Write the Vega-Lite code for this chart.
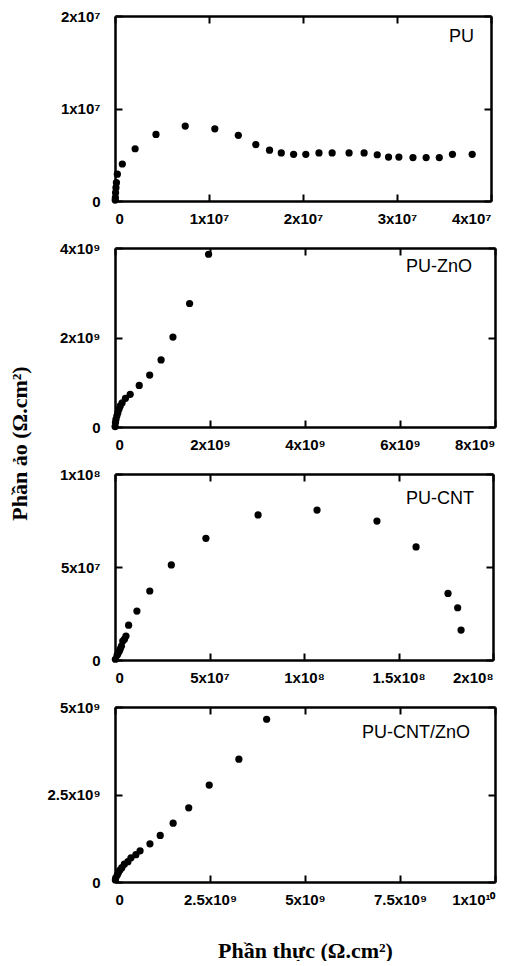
{
  "$schema": "https://vega.github.io/schema/vega-lite/v6.json",
  "background": "white",
  "padding": {"left": 8, "top": 9, "right": 2, "bottom": 0},
  "spacing": 47,
  "bounds": "flush",
  "config": {
    "view": {"stroke": null},
    "axis": {
      "grid": false, "domain": true, "domainColor": "black", "domainWidth": 2.5,
      "tickColor": "black", "tickWidth": 2, "tickSize": -7,
      "labelFont": "Liberation Sans", "labelFontWeight": "bold", "labelFontSize": 15, "labelColor": "black",
      "titleFont": "Liberation Serif", "titleFontSize": 22, "titleFontWeight": "bold", "titleColor": "black"
    },
    "axisX": {"labelDx": -11, "labelPadding": 17},
    "axisY": {"labelDy": 3, "labelPadding": 22},
    "text": {"font": "Liberation Sans", "fontSize": 18, "color": "black", "align": "right", "baseline": "top"}
  },
  "datasets": {
    "pu": [
      {"re": 2e4, "im": 1e5}, {"re": 4e4, "im": 3.6e5}, {"re": 6e4, "im": 9e5}, {"re": 1e5, "im": 1.44e6},
      {"re": 1.5e5, "im": 1.98e6}, {"re": 2.5e5, "im": 2.9e6}, {"re": 7.8e5, "im": 4.0e6}, {"re": 2.14e6, "im": 5.65e6},
      {"re": 4.36e6, "im": 7.2e6}, {"re": 7.47e6, "im": 8.1e6}, {"re": 1.062e7, "im": 7.8e6}, {"re": 1.312e7, "im": 7.1e6},
      {"re": 1.498e7, "im": 6.1e6}, {"re": 1.644e7, "im": 5.5e6}, {"re": 1.769e7, "im": 5.2e6}, {"re": 1.90e7, "im": 5.05e6},
      {"re": 2.03e7, "im": 5.05e6}, {"re": 2.17e7, "im": 5.2e6}, {"re": 2.31e7, "im": 5.2e6}, {"re": 2.49e7, "im": 5.2e6},
      {"re": 2.65e7, "im": 5.2e6}, {"re": 2.79e7, "im": 5.0e6}, {"re": 2.91e7, "im": 4.75e6}, {"re": 3.02e7, "im": 4.75e6},
      {"re": 3.17e7, "im": 4.7e6}, {"re": 3.31e7, "im": 4.7e6}, {"re": 3.45e7, "im": 4.7e6}, {"re": 3.59e7, "im": 5.05e6},
      {"re": 3.80e7, "im": 5.05e6}
    ],
    "puzno": [
      {"re": 1.97e9, "im": 3.86e9}, {"re": 1.57e9, "im": 2.76e9}, {"re": 1.22e9, "im": 2.01e9}, {"re": 0.97e9, "im": 1.50e9},
      {"re": 0.73e9, "im": 1.16e9}, {"re": 0.51e9, "im": 0.93e9}, {"re": 0.32e9, "im": 0.73e9}, {"re": 0.22e9, "im": 0.64e9},
      {"re": 0.15e9, "im": 0.54e9}, {"re": 0.11e9, "im": 0.47e9}, {"re": 0.085e9, "im": 0.40e9}, {"re": 0.06e9, "im": 0.32e9},
      {"re": 0.04e9, "im": 0.25e9}, {"re": 0.02e9, "im": 0.17e9}, {"re": 0.01e9, "im": 0.10e9}, {"re": 0.002e9, "im": 0.01e9}
    ],
    "pucnt": [
      {"re": 1.831e8, "im": 1.61e7}, {"re": 1.813e8, "im": 2.81e7}, {"re": 1.762e8, "im": 3.58e7}, {"re": 1.593e8, "im": 6.08e7},
      {"re": 1.386e8, "im": 7.47e7}, {"re": 1.069e8, "im": 8.06e7}, {"re": 0.757e8, "im": 7.80e7}, {"re": 0.481e8, "im": 6.54e7},
      {"re": 0.298e8, "im": 5.11e7}, {"re": 0.184e8, "im": 3.71e7}, {"re": 0.116e8, "im": 2.63e7}, {"re": 0.072e8, "im": 1.87e7},
      {"re": 0.058e8, "im": 1.29e7}, {"re": 0.05e8, "im": 1.12e7}, {"re": 0.041e8, "im": 1.02e7}, {"re": 0.034e8, "im": 0.75e7},
      {"re": 0.028e8, "im": 0.6e7}, {"re": 0.023e8, "im": 0.48e7}, {"re": 0.016e8, "im": 0.35e7}, {"re": 0.011e8, "im": 0.25e7},
      {"re": 0.002e8, "im": 0.04e7}
    ],
    "pucntzno": [
      {"re": 3.99e9, "im": 4.65e9}, {"re": 3.26e9, "im": 3.51e9}, {"re": 2.48e9, "im": 2.77e9}, {"re": 1.94e9, "im": 2.12e9},
      {"re": 1.53e9, "im": 1.68e9}, {"re": 1.19e9, "im": 1.33e9}, {"re": 0.92e9, "im": 1.09e9}, {"re": 0.66e9, "im": 0.89e9},
      {"re": 0.55e9, "im": 0.78e9}, {"re": 0.42e9, "im": 0.69e9}, {"re": 0.34e9, "im": 0.58e9}, {"re": 0.245e9, "im": 0.51e9},
      {"re": 0.18e9, "im": 0.41e9}, {"re": 0.13e9, "im": 0.34e9}, {"re": 0.09e9, "im": 0.27e9}, {"re": 0.06e9, "im": 0.2e9},
      {"re": 0.02e9, "im": 0.12e9}, {"re": 0.01e9, "im": 0.06e9}
    ]
  },
  "vconcat": [
    {
      "width": 376, "height": 185,
      "data": {"name": "pu"},
      "layer": [
        {
          "mark": {"type": "circle", "size": 52, "color": "black", "opacity": 1},
          "encoding": {
            "x": {"field": "re", "type": "quantitative", "scale": {"domain": [0, 4e7], "nice": false, "zero": false},
              "axis": {"title": null, "values": [0, 1e7, 2e7, 3e7, 4e7],
                "labelExpr": "datum.value == 0 ? '0' : format(datum.value / pow(10, floor(log(datum.value)/LN10 + 0.000001)), '~g') + 'x10' + (floor(log(datum.value)/LN10 + 0.000001) == 7 ? '⁷' : floor(log(datum.value)/LN10 + 0.000001) == 8 ? '⁸' : floor(log(datum.value)/LN10 + 0.000001) == 9 ? '⁹' : '¹⁰')"}},
            "y": {"field": "im", "type": "quantitative", "scale": {"domain": [0, 2e7], "nice": false, "zero": false},
              "axis": {"title": null, "values": [0, 1e7, 2e7],
                "labelExpr": "datum.value == 0 ? '0' : format(datum.value / pow(10, floor(log(datum.value)/LN10 + 0.000001)), '~g') + 'x10' + (floor(log(datum.value)/LN10 + 0.000001) == 7 ? '⁷' : floor(log(datum.value)/LN10 + 0.000001) == 8 ? '⁸' : floor(log(datum.value)/LN10 + 0.000001) == 9 ? '⁹' : '¹⁰')"}}
          }
        },
        {
          "mark": {"type": "circle", "opacity": 0},
          "encoding": {
            "x": {"field": "re", "type": "quantitative", "axis": {"orient": "top", "labels": false, "title": null, "values": [0, 1e7, 2e7, 3e7, 4e7]}},
            "y": {"field": "im", "type": "quantitative", "axis": {"orient": "right", "labels": false, "title": null, "values": [0, 1e7, 2e7]}}
          }
        },
        {
          "data": {"values": [{"label": "PU"}]},
          "mark": {"type": "text", "dx": -17, "dy": 12},
          "encoding": {
            "x": {"datum": 4e7, "type": "quantitative", "axis": null},
            "y": {"datum": 2e7, "type": "quantitative", "axis": null},
            "text": {"field": "label"}
          }
        }
      ],
      "resolve": {"axis": {"x": "independent", "y": "independent"}}
    },
    {
      "width": 380, "height": 179,
      "data": {"name": "puzno"},
      "layer": [
        {
          "mark": {"type": "circle", "size": 52, "color": "black", "opacity": 1},
          "encoding": {
            "x": {"field": "re", "type": "quantitative", "scale": {"domain": [0, 8e9], "nice": false, "zero": false},
              "axis": {"title": null, "values": [0, 2e9, 4e9, 6e9, 8e9],
                "labelExpr": "datum.value == 0 ? '0' : format(datum.value / pow(10, floor(log(datum.value)/LN10 + 0.000001)), '~g') + 'x10' + (floor(log(datum.value)/LN10 + 0.000001) == 7 ? '⁷' : floor(log(datum.value)/LN10 + 0.000001) == 8 ? '⁸' : floor(log(datum.value)/LN10 + 0.000001) == 9 ? '⁹' : '¹⁰')"}},
            "y": {"field": "im", "type": "quantitative", "scale": {"domain": [0, 4e9], "nice": false, "zero": false},
              "axis": {"title": null, "values": [0, 2e9, 4e9],
                "labelExpr": "datum.value == 0 ? '0' : format(datum.value / pow(10, floor(log(datum.value)/LN10 + 0.000001)), '~g') + 'x10' + (floor(log(datum.value)/LN10 + 0.000001) == 7 ? '⁷' : floor(log(datum.value)/LN10 + 0.000001) == 8 ? '⁸' : floor(log(datum.value)/LN10 + 0.000001) == 9 ? '⁹' : '¹⁰')"}}
          }
        },
        {
          "mark": {"type": "circle", "opacity": 0},
          "encoding": {
            "x": {"field": "re", "type": "quantitative", "axis": {"orient": "top", "labels": false, "title": null, "values": [0, 2e9, 4e9, 6e9, 8e9]}},
            "y": {"field": "im", "type": "quantitative", "axis": {"orient": "right", "labels": false, "title": null, "values": [0, 2e9, 4e9]}}
          }
        },
        {
          "data": {"values": [{"label": "PU-ZnO"}]},
          "mark": {"type": "text", "dx": -23, "dy": 10},
          "encoding": {
            "x": {"datum": 8e9, "type": "quantitative", "axis": null},
            "y": {"datum": 4e9, "type": "quantitative", "axis": null},
            "text": {"field": "label"}
          }
        }
      ],
      "resolve": {"axis": {"x": "independent", "y": "independent"}}
    },
    {
      "width": 378, "height": 186,
      "data": {"name": "pucnt"},
      "layer": [
        {
          "mark": {"type": "circle", "size": 52, "color": "black", "opacity": 1},
          "encoding": {
            "x": {"field": "re", "type": "quantitative", "scale": {"domain": [0, 2e8], "nice": false, "zero": false},
              "axis": {"title": null, "values": [0, 5e7, 1e8, 1.5e8, 2e8],
                "labelExpr": "datum.value == 0 ? '0' : format(datum.value / pow(10, floor(log(datum.value)/LN10 + 0.000001)), '~g') + 'x10' + (floor(log(datum.value)/LN10 + 0.000001) == 7 ? '⁷' : floor(log(datum.value)/LN10 + 0.000001) == 8 ? '⁸' : floor(log(datum.value)/LN10 + 0.000001) == 9 ? '⁹' : '¹⁰')"}},
            "y": {"field": "im", "type": "quantitative", "scale": {"domain": [0, 1e8], "nice": false, "zero": false},
              "axis": {"title": "Phần ảo (Ω.cm²)", "titleX": -84, "titleY": -31, "titleBaseline": "bottom", "titleAlign": "center", "titleAngle": -90,
                "values": [0, 5e7, 1e8],
                "labelExpr": "datum.value == 0 ? '0' : format(datum.value / pow(10, floor(log(datum.value)/LN10 + 0.000001)), '~g') + 'x10' + (floor(log(datum.value)/LN10 + 0.000001) == 7 ? '⁷' : floor(log(datum.value)/LN10 + 0.000001) == 8 ? '⁸' : floor(log(datum.value)/LN10 + 0.000001) == 9 ? '⁹' : '¹⁰')"}}
          }
        },
        {
          "mark": {"type": "circle", "opacity": 0},
          "encoding": {
            "x": {"field": "re", "type": "quantitative", "axis": {"orient": "top", "labels": false, "title": null, "values": [0, 5e7, 1e8, 1.5e8, 2e8]}},
            "y": {"field": "im", "type": "quantitative", "axis": {"orient": "right", "labels": false, "title": null, "values": [0, 5e7, 1e8]}}
          }
        },
        {
          "data": {"values": [{"label": "PU-CNT"}]},
          "mark": {"type": "text", "dx": -19, "dy": 16},
          "encoding": {
            "x": {"datum": 2e8, "type": "quantitative", "axis": null},
            "y": {"datum": 1e8, "type": "quantitative", "axis": null},
            "text": {"field": "label"}
          }
        }
      ],
      "resolve": {"axis": {"x": "independent", "y": "independent"}}
    },
    {
      "width": 380, "height": 175,
      "data": {"name": "pucntzno"},
      "layer": [
        {
          "mark": {"type": "circle", "size": 52, "color": "black", "opacity": 1},
          "encoding": {
            "x": {"field": "re", "type": "quantitative", "scale": {"domain": [0, 1e10], "nice": false, "zero": false},
              "axis": {"title": "Phần thực (Ω.cm²)", "titlePadding": 33, "values": [0, 2.5e9, 5e9, 7.5e9, 1e10],
                "labelExpr": "datum.value == 0 ? '0' : format(datum.value / pow(10, floor(log(datum.value)/LN10 + 0.000001)), '~g') + 'x10' + (floor(log(datum.value)/LN10 + 0.000001) == 7 ? '⁷' : floor(log(datum.value)/LN10 + 0.000001) == 8 ? '⁸' : floor(log(datum.value)/LN10 + 0.000001) == 9 ? '⁹' : '¹⁰')"}},
            "y": {"field": "im", "type": "quantitative", "scale": {"domain": [0, 5e9], "nice": false, "zero": false},
              "axis": {"title": null, "values": [0, 2.5e9, 5e9],
                "labelExpr": "datum.value == 0 ? '0' : format(datum.value / pow(10, floor(log(datum.value)/LN10 + 0.000001)), '~g') + 'x10' + (floor(log(datum.value)/LN10 + 0.000001) == 7 ? '⁷' : floor(log(datum.value)/LN10 + 0.000001) == 8 ? '⁸' : floor(log(datum.value)/LN10 + 0.000001) == 9 ? '⁹' : '¹⁰')"}}
          }
        },
        {
          "mark": {"type": "circle", "opacity": 0},
          "encoding": {
            "x": {"field": "re", "type": "quantitative", "axis": {"orient": "top", "labels": false, "title": null, "values": [0, 2.5e9, 5e9, 7.5e9, 1e10]}},
            "y": {"field": "im", "type": "quantitative", "axis": {"orient": "right", "labels": false, "title": null, "values": [0, 2.5e9, 5e9]}}
          }
        },
        {
          "data": {"values": [{"label": "PU-CNT/ZnO"}]},
          "mark": {"type": "text", "dx": -25, "dy": 17},
          "encoding": {
            "x": {"datum": 1e10, "type": "quantitative", "axis": null},
            "y": {"datum": 5e9, "type": "quantitative", "axis": null},
            "text": {"field": "label"}
          }
        }
      ],
      "resolve": {"axis": {"x": "independent", "y": "independent"}}
    }
  ]
}
